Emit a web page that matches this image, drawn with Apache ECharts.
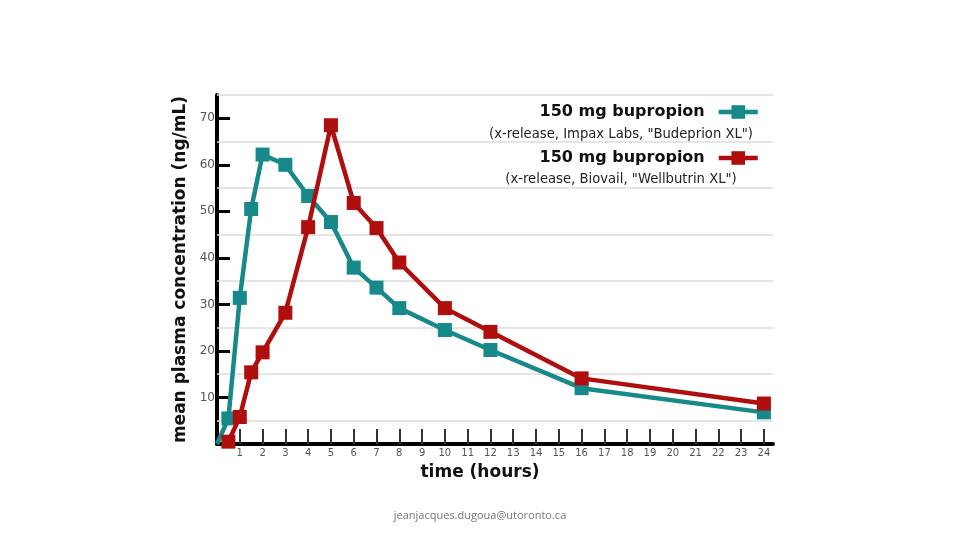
<!DOCTYPE html>
<html>
<head>
<meta charset="utf-8">
<script src="https://cdn.jsdelivr.net/npm/echarts@6/dist/echarts.min.js"></script>
<style>html,body{margin:0;padding:0;background:#fff;}#c{width:960px;height:540px;}</style>
</head>
<body>
<div id="c"></div>
<script>
const hourTicks = [1,2,3,4,5,6,7,8,9,10,11,12,13,14,15,16,17,18,19,20,21,22,23,24];
const yTicks = [10,20,30,40,50,60,70];
const gridValues = [5,15,25,35,45,55,65,75];

const budeprionTimes = [0,0.5,1,1.5,2,3,4,5,6,7,8,10,12,16,24];
const budeprionValues = [0,5.5,31.4,50.5,62.2,60.0,53.3,47.7,37.9,33.6,29.2,24.5,20.2,12.0,6.8];
const wellbutrinTimes = [0.5,1,1.5,2,3,4,5,6,7,8,10,12,16,24];
const wellbutrinValues = [0.5,5.8,15.4,19.7,28.2,46.6,68.5,51.8,46.4,39.0,29.2,24.1,14.1,8.7];

const seriesNames = ['Budeprion XL', 'Wellbutrin XL'];
const legendTitle = '150 mg bupropion';
const legendSubtitles = ['(x-release, Impax Labs, "Budeprion XL")', '(x-release, Biovail, "Wellbutrin XL")'];
const footer = 'jeanjacques.dugoua@utoronto.ca';

const TEAL = '#17898a', RED = '#b00d0d';

function pairs(ts, vs, hideFirstAtZero) {
  return ts.map((t, i) => {
    const item = { value: [t, vs[i]] };
    if (hideFirstAtZero && t === 0) item.symbol = 'none';
    return item;
  });
}

const chart = echarts.init(document.getElementById('c'), null, { renderer: 'canvas' });
chart.setOption({
  animation: false,
  backgroundColor: '#fff',
  grid: { left: 217, right: 187, top: 95, bottom: 96, containLabel: false },
  legend: {
    data: seriesNames,
    orient: 'vertical',
    align: 'right',
    right: 200,
    top: 103,
    padding: 0,
    itemGap: 28,
    itemWidth: 39,
    itemHeight: 17,
    formatter: () => legendTitle,
    lineStyle: { width: 4.5 },
    textStyle: { fontFamily: 'DejaVu Sans', fontWeight: 'bold', fontSize: 16, color: '#111', lineHeight: 18, padding: [0, 9, 0, 0] },
    selectedMode: false
  },
  xAxis: {
    type: 'value', min: 0, max: 24.4, interval: 1,
    name: 'time (hours)', nameLocation: 'middle', nameGap: 20,
    nameTextStyle: { fontFamily: 'DejaVu Sans', fontWeight: 'bold', fontSize: 17, color: '#111', padding: [0, 30, 0, 0] },
    axisLine: { show: true, onZero: false, lineStyle: { color: '#000', width: 4 } },
    axisTick: { show: true, inside: true, length: 15, customValues: hourTicks, lineStyle: { color: '#333', width: 2 } },
    axisLabel: { customValues: hourTicks, margin: 4, fontFamily: 'DejaVu Sans', fontSize: 10, color: '#555' },
    splitLine: { show: false }
  },
  yAxis: {
    type: 'value', min: 0, max: 75, interval: 10,
    name: 'mean plasma concentration (ng/mL)', nameLocation: 'middle', nameGap: 23, nameRotate: 90,
    nameTextStyle: { fontFamily: 'DejaVu Sans', fontWeight: 'bold', fontSize: 17, color: '#111' },
    axisLine: { show: true, onZero: false, lineStyle: { color: '#000', width: 4 } },
    axisTick: { show: true, inside: true, length: 13, customValues: yTicks, lineStyle: { color: '#000', width: 3 } },
    axisLabel: { customValues: yTicks, margin: 2, fontFamily: 'DejaVu Sans', fontSize: 12, color: '#555' },
    splitLine: { show: false }
  },
  series: [
    {
      name: 'grid', type: 'line', data: [], z: 1, silent: true,
      markLine: {
        z: 1, silent: true, symbol: 'none', label: { show: false },
        lineStyle: { color: '#dcdcdc', width: 1.5, type: 'solid' },
        emphasis: { disabled: true },
        data: gridValues.map(v => ({ yAxis: v }))
      }
    },
    {
      name: seriesNames[0], type: 'line', z: 3,
      data: pairs(budeprionTimes, budeprionValues, true),
      symbol: 'rect', symbolSize: 14,
      lineStyle: { color: TEAL, width: 4.5 },
      itemStyle: { color: TEAL }
    },
    {
      name: seriesNames[1], type: 'line', z: 4,
      data: pairs(wellbutrinTimes, wellbutrinValues, false),
      symbol: 'rect', symbolSize: 14,
      lineStyle: { color: RED, width: 4.5 },
      itemStyle: { color: RED }
    }
  ],
  graphic: [
    { type: 'text', x: 621, y: 135, silent: true, style: { text: legendSubtitles[0], textAlign: 'center', textVerticalAlign: 'middle', font: '13.2px "DejaVu Sans"', fill: '#222' } },
    { type: 'text', x: 621, y: 180, silent: true, style: { text: legendSubtitles[1], textAlign: 'center', textVerticalAlign: 'middle', font: '13.2px "DejaVu Sans"', fill: '#222' } },
    { type: 'text', x: 480, y: 516, silent: true, style: { text: footer, textAlign: 'center', textVerticalAlign: 'middle', font: '11px "Open Sans"', fill: '#777' } }
  ]
});
</script>
</body>
</html>
